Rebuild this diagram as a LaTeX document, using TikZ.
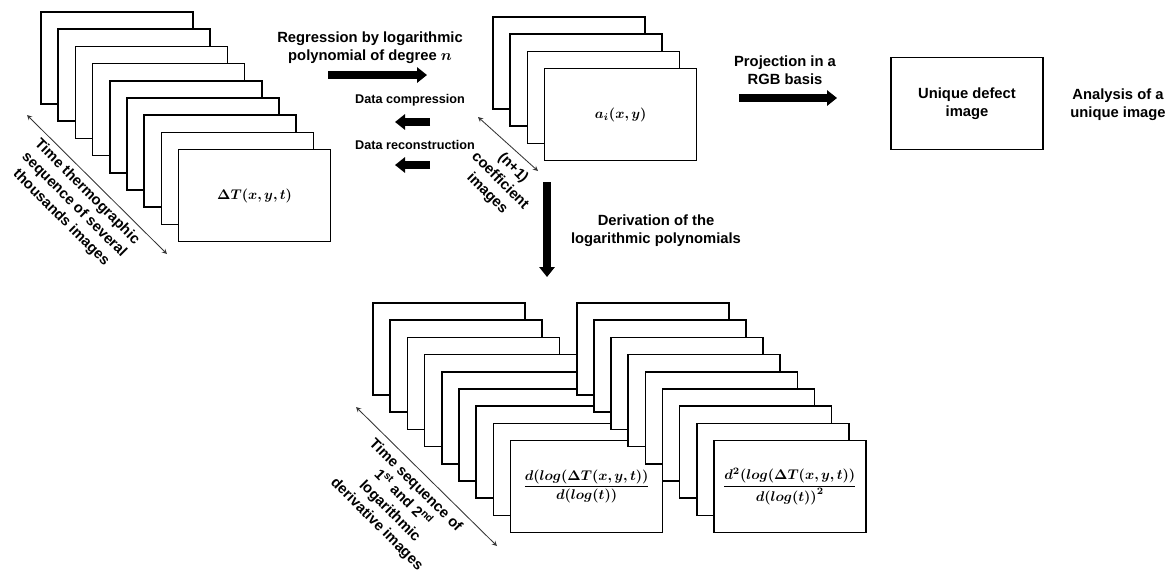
\documentclass[tikz,border=0pt]{standalone}
\usepackage{fontspec}
\setmainfont{Liberation Sans}
\usepackage{amsmath,bm}
\usetikzlibrary{arrows,arrows.meta,positioning}

\begin{document}
\begin{tikzpicture}[x=0.025cm, y=-0.025cm,
    frame/.style={rectangle, draw, fill=white, line width=1.2pt, minimum width=3.8cm, minimum height=2.3cm, inner sep=0pt},
    lbl/.style={align=center, font=\fontsize{10.5}{13}\selectfont\bfseries},
    small/.style={align=center, font=\fontsize{9}{11}\selectfont\bfseries},
    fat/.style={line width=0.19cm, -{Triangle[length=0.25cm, width=0.38cm]}},
    span/.style={<->, >=stealth, line width=0.6pt, black!80}
]
\useasboundingbox (0,0) rectangle (1169,574);

% thermographic sequence
\foreach \k in {0,...,7}
  \node[frame] (raw\k) at (117+17.2*\k, 58+17.2*\k) {};
\node[frame] (raw8) at (254.6,195.6) {$\bm{\Delta T(x,y,t)}$};
\coordinate (rawA) at (27,115);
\coordinate (rawB) at (167,254);
\draw[span] (rawA) -- (rawB);
\node[lbl, rotate=-45] (rawtxt) at (74,205) {Time thermographic\\sequence of several\\thousands images};

% regression / compression
\node[lbl] (regtxt) at (370,48) {Regression by logarithmic\\polynomial of degree $\bm{n}$};
\coordinate (regS) at (328,75);
\coordinate (regE) at (427,75);
\draw[fat] (regS) -- (regE);
\node[small] (comptxt) at (410,100) {Data compression};
\coordinate (compS) at (430,122);
\coordinate (compE) at (395,122);
\draw[fat] (compS) -- (compE);
\node[small] (recotxt) at (415,145) {Data reconstruction};
\coordinate (recoS) at (430,165);
\coordinate (recoE) at (395,165);
\draw[fat] (recoS) -- (recoE);

% coefficient images
\foreach \k in {0,...,2}
  \node[frame] (coef\k) at (569+17.2*\k, 63+17.2*\k) {};
\node[frame] (coef3) at (620.6,114.6) {$\bm{a_i(x,y)}$};
\coordinate (coefA) at (478,117);
\coordinate (coefB) at (538,171);
\draw[span] (coefA) -- (coefB);
\node[lbl, rotate=-45] (coeftxt) at (500,181) {(n+1)\\coefficient\\images};

% projection
\node[lbl] (projtxt) at (785,70) {Projection in a\\RGB basis};
\coordinate (projS) at (739,98);
\coordinate (projE) at (837,98);
\draw[fat] (projS) -- (projE);
\node[frame, lbl] (defect) at (967,103.5) {Unique defect\\image};
\node[lbl] (anatxt) at (1118,105) {Analysis of a\\unique image};

% derivation
\coordinate (derS) at (547,182);
\coordinate (derE) at (547,277);
\draw[fat] (derS) -- (derE);
\node[lbl] (derivtxt) at (656,231) {Derivation of the\\logarithmic polynomials};

% derivative sequences
\foreach \k in {0,...,7}
  \node[frame] (first\k) at (449+17.2*\k, 349+17.2*\k) {};
\node[frame] (first8) at (586.6,486.6)
  {$\dfrac{\bm{d(log(\Delta T(x,y,t))}}{\bm{d(log(t))}}$};
\foreach \k in {0,...,7}
  \node[frame] (second\k) at (653+17.1*\k, 349+17.2*\k) {};
\node[frame] (second8) at (789.8,486.6)
  {$\dfrac{\bm{d^2(log(\Delta T(x,y,t))}}{\bm{d(log(t))^2}}$};
\coordinate (seqA) at (356,407);
\coordinate (seqB) at (497,546);
\draw[span] (seqA) -- (seqB);
\node[lbl, rotate=-45] (seqtxt) at (396,505) {Time sequence of\\1\textsuperscript{st} and 2\textsuperscript{nd}\\logarithmic\\derivative images};

\end{tikzpicture}
\end{document}
